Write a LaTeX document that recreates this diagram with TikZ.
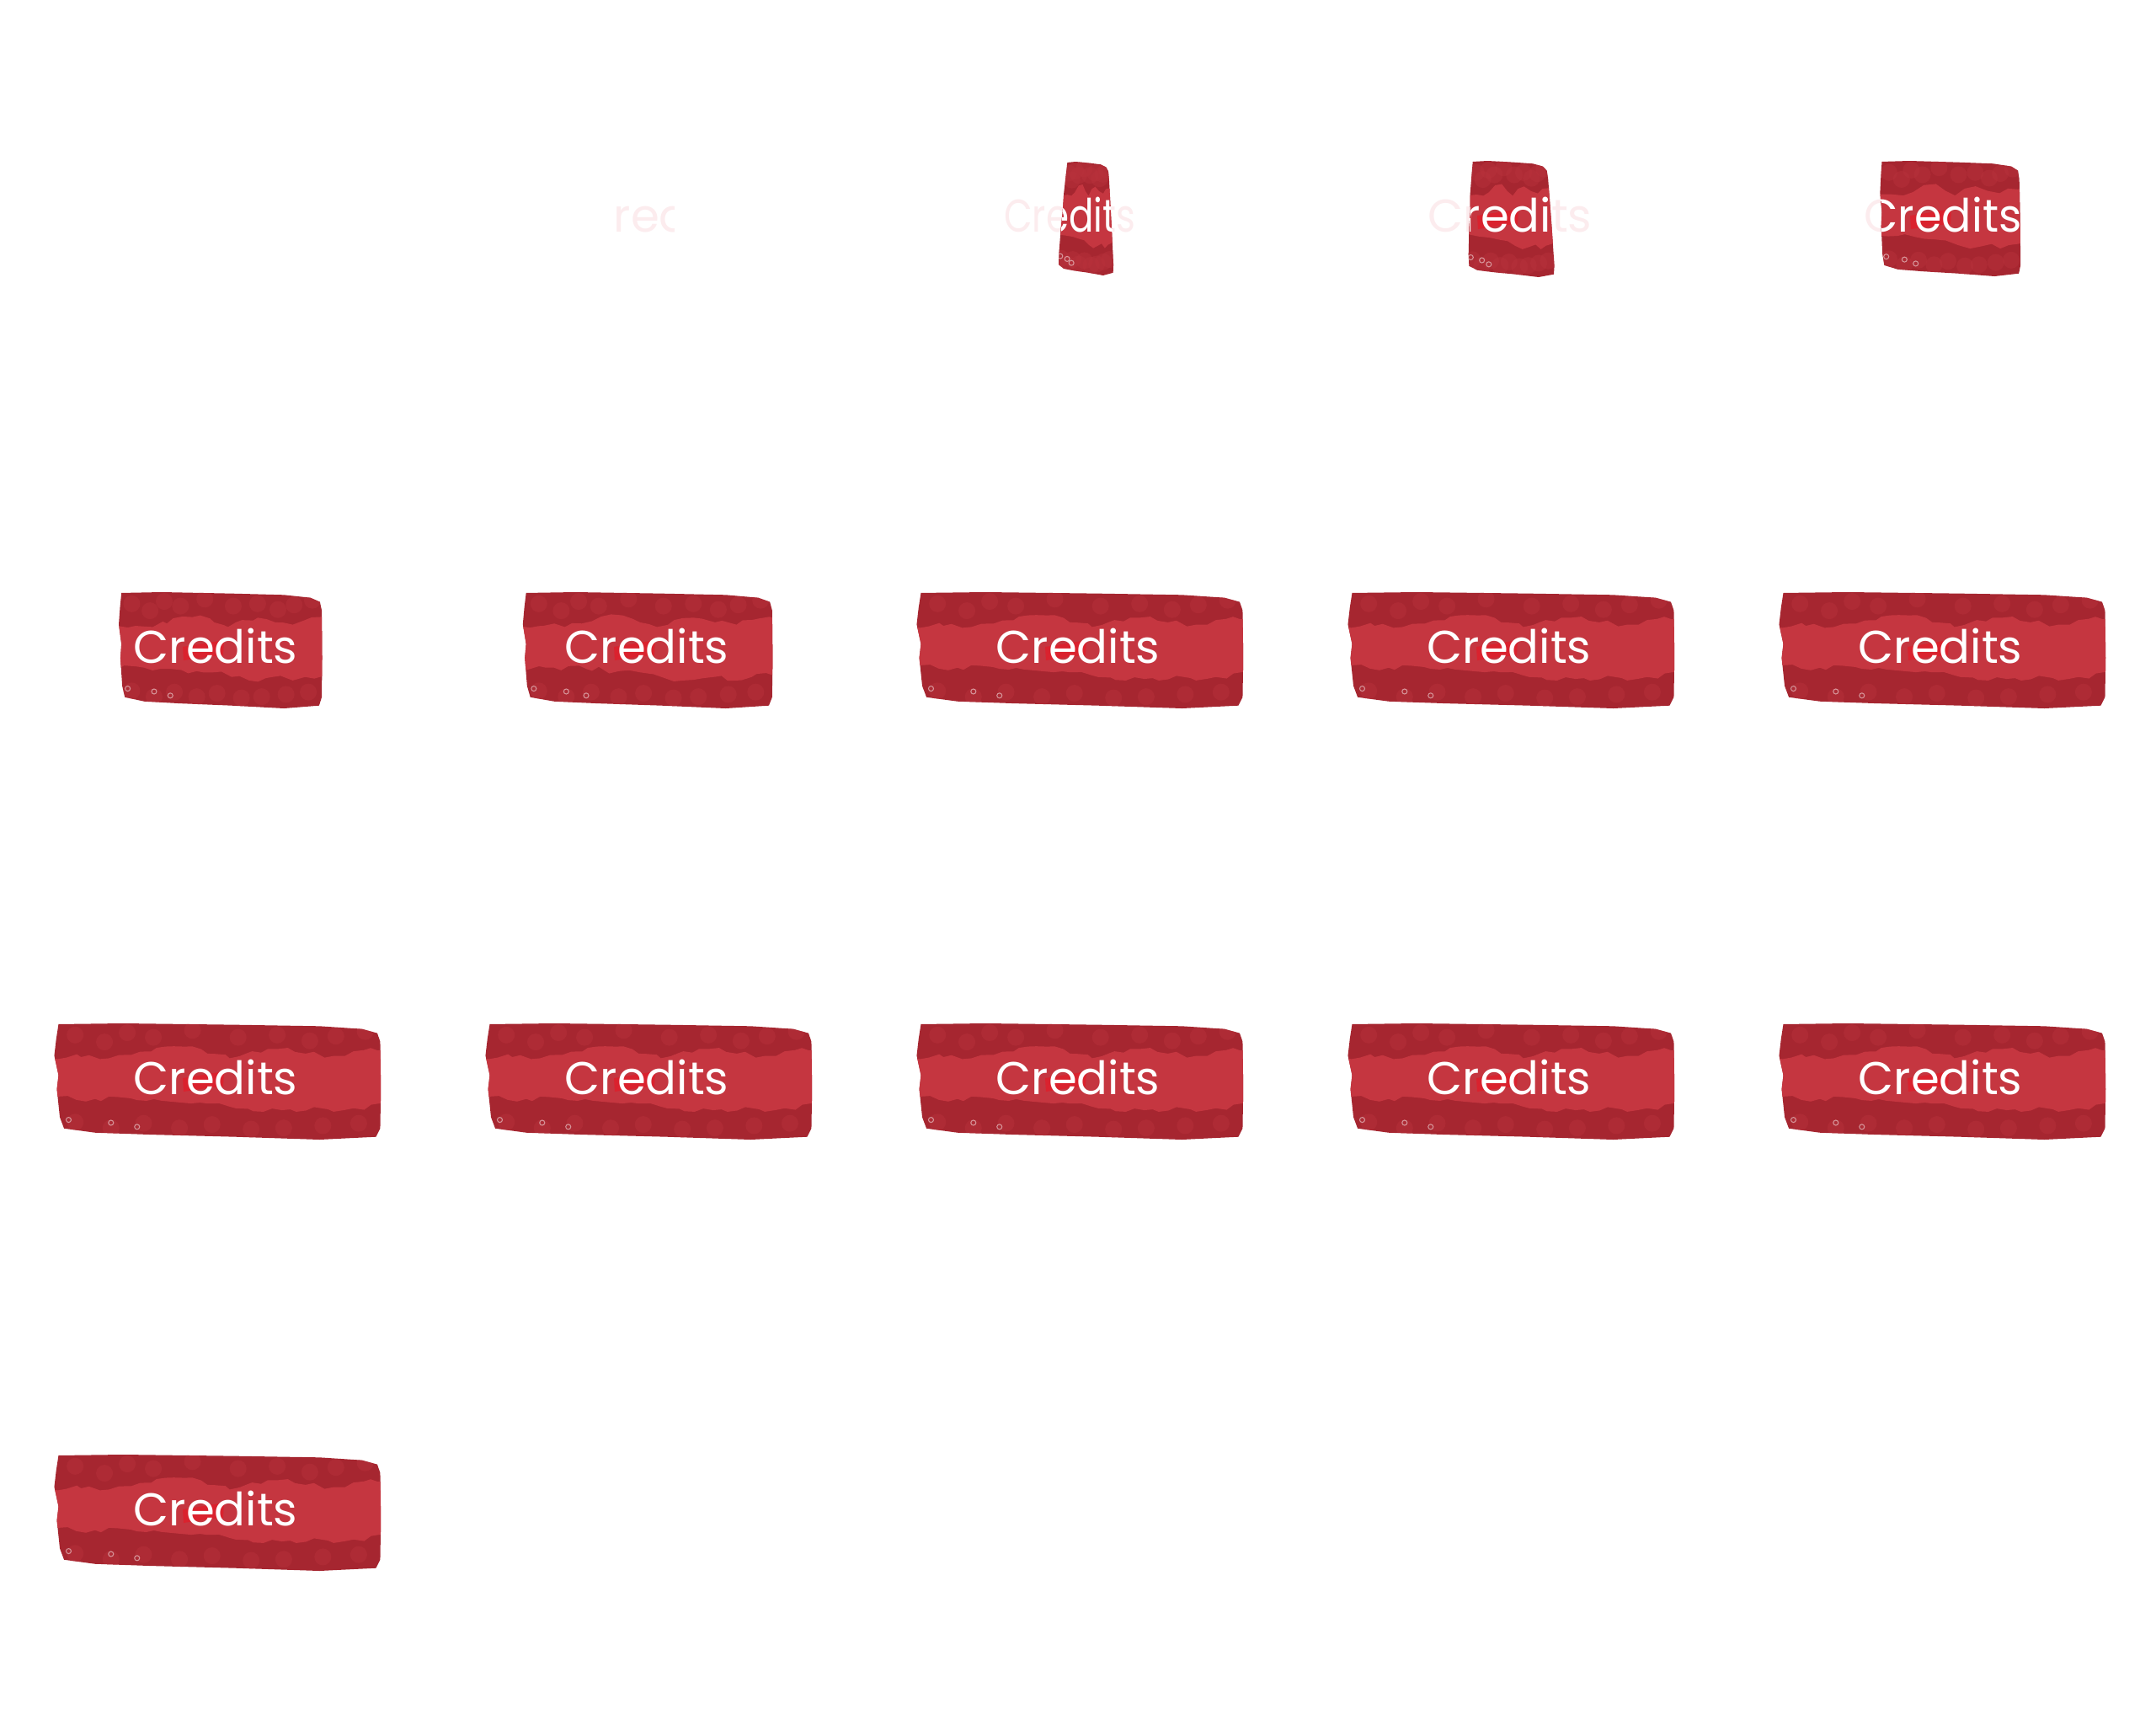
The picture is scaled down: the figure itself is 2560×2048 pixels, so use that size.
\documentclass[tikz,border=0pt]{standalone}
\usepackage{fontspec}
\setmainfont{Poppins}
\usetikzlibrary{decorations.pathmorphing}
\definecolor{btnmid}{RGB}{197,54,64}
\definecolor{btndark}{RGB}{166,38,48}
\definecolor{btnhi}{RGB}{218,34,46}
\definecolor{btnblot}{RGB}{185,50,60}
\definecolor{ghost}{RGB}{252,236,238}
\def\btnparse#1/#2\relax{%
  \pgfmathsetmacro\btnX{\bxa+(#1)*(\bxb-\bxa)+(#2)*(\bxc-\bxa)+(#1)*(#2)*(\bxd-\bxc-\bxb+\bxa)}%
  \pgfmathsetmacro\btnY{\bya+(#2)*(\byb-\bya)}%
  \pgfpointxy{\btnX}{\btnY}}
\tikzdeclarecoordinatesystem{btn}{\btnparse#1\relax}
\newcommand\frameset[6]{\def\bxa{#1}\def\bxb{#2}\def\bxc{#3}\def\bxd{#4}\def\bya{#5}\def\byb{#6}}
\newcommand\btnshape{(btn cs:0.009/0.007) -- (btn cs:0.207/0) -- (btn cs:0.552/0.012) -- (btn cs:0.81/0.024) -- (btn cs:0.94/0.048) -- (btn cs:0.987/0.084) -- (btn cs:0.996/0.157) -- (btn cs:0.998/0.566) -- (btn cs:0.996/0.904) -- (btn cs:0.983/0.976) -- (btn cs:0.81/1) -- (btn cs:0.552/0.976) -- (btn cs:0.293/0.957) -- (btn cs:0.121/0.94) -- (btn cs:0.026/0.904) -- (btn cs:0.013/0.807) -- (btn cs:0.004/0.566) -- (btn cs:0.009/0.446) -- (btn cs:-0.004/0.277) -- (btn cs:0.002/0.133) -- cycle}
\newcommand\midband{(btn cs:-0.05/0.30) -- (btn cs:0.078/0.29) -- (btn cs:0.164/0.30) -- (btn cs:0.233/0.27) -- (btn cs:0.31/0.21) -- (btn cs:0.397/0.20) -- (btn cs:0.466/0.26) -- (btn cs:0.534/0.30) -- (btn cs:0.603/0.24) -- (btn cs:0.681/0.22) -- (btn cs:0.767/0.26) -- (btn cs:0.853/0.28) -- (btn cs:0.914/0.24) -- (btn cs:1.05/0.23) -- (btn cs:1.05/0.70) -- (btn cs:0.914/0.73) -- (btn cs:0.853/0.76) -- (btn cs:0.793/0.72) -- (btn cs:0.72/0.74) -- (btn cs:0.638/0.76) -- (btn cs:0.552/0.73) -- (btn cs:0.466/0.69) -- (btn cs:0.38/0.68) -- (btn cs:0.25/0.66) -- (btn cs:0.121/0.65) -- (btn cs:-0.05/0.64) -- cycle}
\newcommand\drawbtn{%
  \fill[btndark] \btnshape;
  \begin{scope}
    \clip \btnshape;
    \foreach \uu/\vv in {0.06/0.1, 0.15/0.16, 0.22/0.08, 0.3/0.12, 0.42/0.06, 0.56/0.12, 0.68/0.1, 0.78/0.15, 0.86/0.11, 0.95/0.07, 0.06/0.85, 0.17/0.9, 0.27/0.86, 0.38/0.9, 0.48/0.87, 0.6/0.91, 0.7/0.9, 0.82/0.88, 0.93/0.86}
      \fill[btnblot, opacity=0.45] (btn cs:\uu/\vv) circle[radius=10];
    \pgfmathsetseed{7}
    \fill[btnmid, decorate, decoration={random steps, segment length=3pt, amplitude=1pt}] \midband;
    \foreach \uu/\vv in {0.17/0.855, 0.25/0.89, 0.04/0.83}
      \draw[white, opacity=0.5, line width=0.3pt] (btn cs:\uu/\vv) circle[radius=3];
  \end{scope}}
\newcommand\hilite[1]{\fill[btnhi] ([shift={(-39,-19)}]#1) -- ([shift={(-20,-22)}]#1) -- ([shift={(10,-27)}]#1) -- ([shift={(9,-9)}]#1) -- ([shift={(-12,-7)}]#1) -- ([shift={(-38,-3)}]#1) -- cycle;}
\newcommand\fullbtn[7]{%
  \frameset{#2}{#3}{#2}{#3}{#4}{#5}%
  \drawbtn
  \coordinate (#1c) at (#6,#7);
  \begin{scope}\clip \btnshape; \hilite{#1c}\end{scope}
  \node[txt] (#1) at (#1c) {Credits};}
\tikzset{
  txt/.style={anchor=base, inner sep=0pt, text=white, font=\fontsize{15.5}{18}\selectfont},
  ghosttxt/.style={txt, text=ghost}
}
\begin{document}
\begin{tikzpicture}[x=0.01cm, y=-0.01cm]
\fill[white] (0,0) rectangle (2560,2048);
\useasboundingbox (0,0) rectangle (2560,2048);
% row 1, column 2: faint text only
\begin{scope}
  \clip (728,228) rectangle (800,292);
  \node[ghosttxt] (g1) at (784,275) {Credits};
\end{scope}
% row 1, column 3
\node[ghosttxt] (g2) at (1270,275) {\scalebox{0.8}[1]{Credits}};
\frameset{1267}{1316}{1254}{1323}{192}{327}
\drawbtn
\begin{scope}\clip \btnshape;
  \node[txt] (t2) at (1270,275) {\scalebox{0.8}[1]{Credits}};
\end{scope}
% row 1, column 4
\node[ghosttxt] (g3) at (1793,275) {Credits};
\frameset{1748}{1837}{1741}{1847}{191}{329}
\drawbtn
\coordinate (t3c) at (1793,275);
\begin{scope}\clip \btnshape;
  \hilite{t3c}
  \node[txt] (t3) at (t3c) {Credits};
\end{scope}
% row 1, column 5
\node[ghosttxt] (g4) at (2307,275) {\scalebox{0.96}[1]{Credits}};
\frameset{2233}{2398}{2233}{2400}{191}{328}
\drawbtn
\coordinate (t4c) at (2307,275);
\begin{scope}\clip \btnshape;
  \hilite{t4c}
  \node[txt] (t4) at (t4c) {\scalebox{0.96}[1]{Credits}};
\end{scope}
% row 2
\fullbtn{r2a}{142}{383}{703}{841}{256}{787}
\fullbtn{r2b}{622}{918}{703}{841}{768}{787}
\fullbtn{r2c}{1090}{1477}{703}{841}{1280}{787}
\fullbtn{r2d}{1602}{1989}{703}{841}{1792}{787}
\fullbtn{r2e}{2114}{2501}{703}{841}{2304}{787}
% row 3
\fullbtn{r3a}{66}{453}{1215}{1353}{256}{1299}
\fullbtn{r3b}{578}{965}{1215}{1353}{768}{1299}
\fullbtn{r3c}{1090}{1477}{1215}{1353}{1280}{1299}
\fullbtn{r3d}{1602}{1989}{1215}{1353}{1792}{1299}
\fullbtn{r3e}{2114}{2501}{1215}{1353}{2304}{1299}
% row 4
\fullbtn{r4a}{66}{453}{1727}{1865}{256}{1811}
\end{tikzpicture}
\end{document}
